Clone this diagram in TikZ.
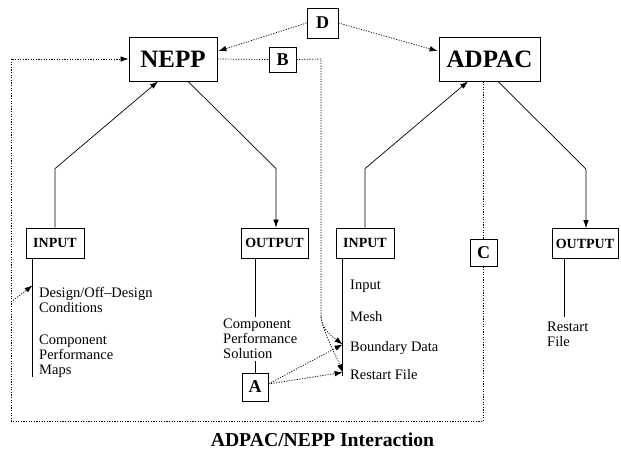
\documentclass[tikz,border=0pt]{standalone}
\usepackage{fontspec}
\setmainfont{Liberation Serif}
\usetikzlibrary{calc,arrows.meta}
\tikzset{
	box/.style={draw, line width=0.8pt, inner sep=0pt},
	prog/.style={box, minimum height=44pt, font=\fontsize{25}{25}\selectfont\bfseries},
	port/.style={box, minimum height=30pt, font=\fontsize{14}{14}\selectfont\bfseries},
	tag/.style={box, font=\fontsize{18}{18}\selectfont\bfseries},
	info/.style={anchor=north west, inner sep=0pt, align=left, font=\fontsize{14.5}{15}\selectfont},
	flow/.style={line width=0.7pt, -{Latex[length=8pt,width=5.5pt]}},
	link/.style={line width=0.7pt, dash pattern=on 1.2pt off 1.4pt},
	linkarrow/.style={link, -{Latex[length=8pt,width=5.5pt]}}
}

\begin{document}
\begin{tikzpicture}[x=1pt, y=-1pt]
			%%%%% START %%%%%
			\useasboundingbox (0,0) rectangle (621,449);
			
			\node[prog, minimum width=88pt] (nepp) at (173,59) {NEPP};
			\node[prog, minimum width=101pt] (adpac) at (489.5,59) {ADPAC};
			
			\node[tag, minimum width=31pt, minimum height=30pt] (d) at (322.5,23) {D};
			\node[tag, minimum width=27pt, minimum height=25pt] (b) at (282.5,59.5) {B};
			\node[tag, minimum width=27pt, minimum height=27pt] (c) at (483.5,252.5) {C};
			\node[tag, minimum width=26pt, minimum height=28pt] (a) at (255,387) {A};
			
			\node[port, minimum width=58pt] (nin) at (55,243) {INPUT};
			\node[port, minimum width=67pt] (nout) at (274.5,243) {OUTPUT};
			\node[port, minimum width=58pt] (ain) at (365,243) {INPUT};
			\node[port, minimum width=66pt] (aout) at (585,243.5) {OUTPUT};
			
			\node[info] (ncond) at (39,287) {Design/Off--Design\\Conditions};
			\node[info] (nmaps) at (39,335) {Component\\Performance\\Maps};
			\node[info] (nsol) at (223,319) {Component\\Performance\\Solution};
			\node[info] (tinput) at (350,280) {Input};
			\node[info] (tmesh) at (350,311) {Mesh};
			\node[info] (tbound) at (350,341) {Boundary Data};
			\node[info] (trest) at (350,369) {Restart File};
			\node[info] (arest) at (547,322) {Restart\\File};
			
			\node[anchor=base, font=\fontsize{19.7}{20}\selectfont\bfseries] (title) at (322.5,446) {ADPAC/NEPP Interaction};
			
			% program in / out
			\draw[flow] (nin.north) -- ++(0,-59) -- ($(nepp.south)+(-15,0)$);
			\draw[flow] ($(nepp.south)+(15,0)$) -- ($(nout.north)+(1.5,-59)$) -- ($(nout.north)+(1.5,0)$);
			\draw[flow] (ain.north) -- ++(0,-59) -- ($(adpac.south)+(-21.5,0)$);
			\draw[flow] ($(adpac.south)+(8.5,0)$) -- ($(aout.north)+(1,-59)$) -- ($(aout.north)+(1,0)$);
			
			% stems under the ports
			\coordinate (nstem) at ($(nin.south west)+(7,0)$);
			\coordinate (astem) at ($(ain.south west)+(7,0)$);
			\draw[line width=0.7pt] (nstem) -- ++(0,119);
			\draw[line width=0.7pt] (astem) -- ++(0,118);
			\draw[line width=0.7pt] (a.north |- nout.south) -- ($(a.north |- nsol.north)+(0,-2)$);
			\draw[line width=0.7pt] (a.north) -- ($(a.north |- nsol.south)+(0,2)$);
			\draw[line width=0.7pt] ($(aout.south west)+(13,0)$) -- ($(aout.south west)+(13,58)$);
			
			% D
			\draw[linkarrow] (d.west) -- ($(nepp.east)+(1,-8)$);
			\draw[linkarrow] (d.east) -- ($(adpac.west)+(-1,-8)$);
			
			% B
			\coordinate (bcorner) at (321,59);
			\coordinate (bdrop) at (321,317);
			\draw[link] (nepp.east) -- (b.west);
			\draw[link] (b.east) -- (bcorner) -- (bdrop);
			\draw[linkarrow] (bdrop) .. controls (322,330) and (333,337) .. ($(astem)+(0,86)$);
			\draw[linkarrow] (bdrop) .. controls (324,335) and (336,355) .. ($(astem)+(0,114)$);
			
			% A
			\draw[linkarrow] ($(a.east)+(0,-3)$) -- ($(astem)+(0,86)$);
			\draw[linkarrow] ($(a.east)+(0,-3)$) -- ($(astem)+(0,114)$);
			
			% C
			\coordinate (loopse) at (483.5,421);
			\coordinate (loopsw) at (11,421);
			\coordinate (loopnw) at (11,59);
			\coordinate (condtap) at (11,302);
			\draw[link] (c.north |- adpac.south) -- (c.north);
			\draw[linkarrow] (c.south) -- (loopse) -- (loopsw) -- (loopnw) -- (nepp.west);
			\draw[linkarrow] (condtap) -- ($(nstem)+(0,27)$);
			
			%%%%% END %%%%%
\end{tikzpicture}
\end{document}
